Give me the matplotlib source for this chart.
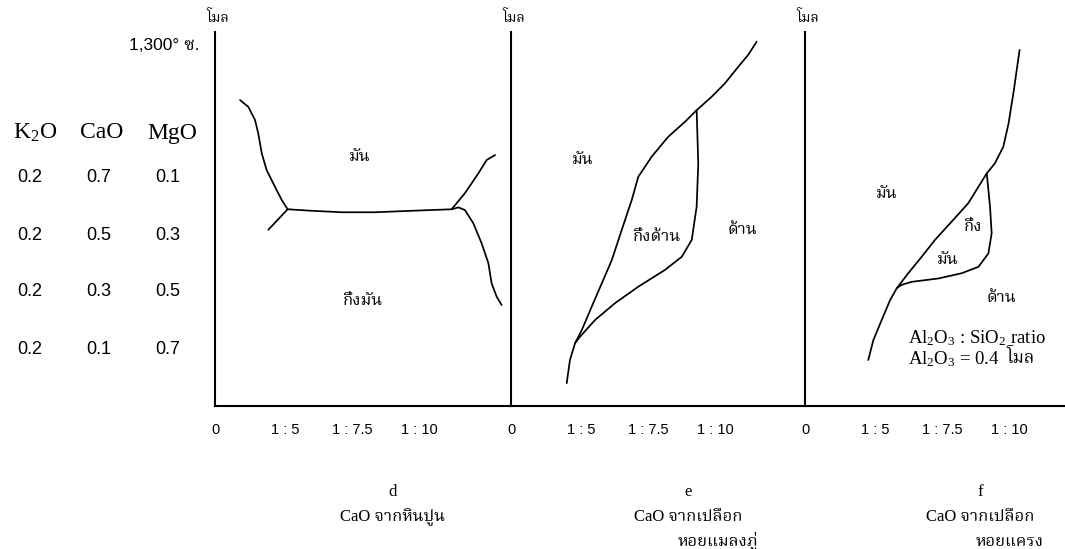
import matplotlib
matplotlib.use("Agg")
import matplotlib.pyplot as plt
from matplotlib import font_manager as fm
from matplotlib.ft2font import FT2Font

# ---------------- data ----------------
tick_pos = [0, 3.43, 6.72, 10]
tick_labels = ["0", "1 : 5", "1 : 7.5", "1 : 10"]

K2O = ["0.2", "0.2", "0.2", "0.2"]
CaO = ["0.7", "0.5", "0.3", "0.1"]
MgO = ["0.1", "0.3", "0.5", "0.7"]

# panel d (CaO from limestone)
d_upleft_x = [1.23, 1.63, 1.96, 2.12, 2.29, 2.53, 2.94, 3.27, 3.56]
d_upleft_y = [81.8, 80.0, 76.5, 72.9, 67.6, 63.1, 58.6, 55.1, 52.6]
d_lowleft_x = [3.56, 2.61]
d_lowleft_y = [52.6, 47.1]
d_mid_x = [3.56, 4.74, 6.21, 7.84, 9.64, 11.60]
d_mid_y = [52.6, 52.2, 51.8, 51.8, 52.2, 52.6]
d_upright_x = [11.60, 12.25, 12.91, 13.32, 13.73]
d_upright_y = [52.6, 56.9, 62.2, 65.8, 67.1]
d_lowright_x = [11.60, 11.93, 12.25, 12.66, 13.07, 13.40, 13.56, 13.81, 14.05]
d_lowright_y = [52.6, 53.1, 52.4, 48.9, 43.5, 38.2, 32.8, 29.2, 27.0]

# panel e (CaO from mussel shell)
e_main_x = [2.73, 2.89, 3.14, 3.47, 3.96, 4.45, 4.94, 5.43, 5.92, 6.24, 6.90, 7.71,
            8.53, 9.10, 9.84, 10.49, 11.14, 11.63, 12.04]
e_main_y = [6.1, 12.3, 16.8, 20.3, 26.6, 32.8, 39.0, 47.1, 55.1, 61.3, 66.7, 72.0,
            76.0, 79.1, 82.7, 86.3, 90.7, 93.9, 97.4]
e_inner_x = [9.10, 9.18, 9.10, 8.86, 8.37, 7.55, 6.24, 5.10, 4.12, 3.38, 3.14]
e_inner_y = [79.1, 64.9, 53.3, 44.4, 39.9, 36.4, 31.9, 27.5, 23.0, 18.5, 16.8]

# panel f (CaO from cockle shell)
f_main_x = [3.10, 3.35, 3.76, 4.17, 4.50, 5.06, 5.72, 6.37, 7.19, 8.00, 8.50, 8.91,
            9.31, 9.72, 9.98, 10.24, 10.40, 10.52]
f_main_y = [12.3, 17.6, 23.0, 28.3, 31.5, 35.5, 39.9, 44.4, 49.3, 54.2, 58.6, 62.2,
            64.9, 69.3, 75.6, 84.5, 90.7, 95.2]
f_inner_x = [8.91, 9.07, 9.15, 8.99, 8.50, 7.68, 6.54, 5.23, 4.74, 4.50]
f_inner_y = [62.2, 53.3, 46.2, 40.8, 37.2, 35.5, 34.1, 33.2, 32.4, 31.5]

# ---------------- fonts ----------------
def find_thai():
    found = []
    for f in fm.fontManager.ttflist:
        try:
            cm = FT2Font(f.fname).get_charmap()
        except Exception:
            continue
        if 0x0E21 in cm:
            found.append(f.name)
    for pref in ["Norasi", "Kinnari", "Laksaman", "Noto Serif Thai", "Garuda",
                 "Loma", "Noto Sans Thai Looped", "Noto Sans Thai"]:
        if pref in found:
            return pref
    return found[0] if found else None

thai = find_thai()
SANS = ["Liberation Sans"] + ([thai] if thai else []) + ["DejaVu Sans"]
SERIF = ["Liberation Serif"] + ([thai] if thai else []) + ["DejaVu Serif"]
THAI = ([thai] if thai else []) + ["Liberation Serif", "DejaVu Sans"]

plt.rcParams["mathtext.fontset"] = "custom"
plt.rcParams["mathtext.rm"] = "Liberation Serif"
plt.rcParams["mathtext.it"] = "Liberation Serif:italic"

W, H = 1065, 549
fig = plt.figure(figsize=(W / 100, H / 100), dpi=100)

def fx(px):
    return px / W

def fy(py):
    return 1 - py / H

PXU = 20.4  # pixels per x unit
y0, y1 = 406, 32
panel_left = [215, 511, 805]
panel_right = [511, 805, 1065]

axes = []
for L, R in zip(panel_left, panel_right):
    ax = fig.add_axes([fx(L), fy(y0), fx(R - L), (y0 - y1) / H])
    ax.set_xlim(0, (R - L) / PXU)
    ax.set_ylim(0, 100)
    for s in ["top", "right"]:
        ax.spines[s].set_visible(False)
    for s in ["left", "bottom"]:
        ax.spines[s].set_linewidth(1.5)
        ax.spines[s].set_color("black")
    ax.set_yticks([])
    ax.set_xticks(tick_pos)
    ax.set_xticklabels(tick_labels, fontfamily=SANS, fontsize=10.5)
    ax.tick_params(axis="x", length=0, pad=12)
    ax.patch.set_alpha(0)
    axes.append(ax)
    fig.text(fx(L + 3), fy(18), "โมล", family=THAI, fontsize=10, ha="center", va="center")

lw = 1.25
axd, axe, axf = axes
for xs, ys in [(d_upleft_x, d_upleft_y), (d_lowleft_x, d_lowleft_y), (d_mid_x, d_mid_y),
               (d_upright_x, d_upright_y), (d_lowright_x, d_lowright_y)]:
    axd.plot(xs, ys, color="black", lw=lw, solid_capstyle="round", solid_joinstyle="round")
axd.text(7.1, 66.6, "มัน", family=THAI, fontsize=12, ha="center", va="center")
axd.text(7.25, 28.3, "กึ่งมัน", family=THAI, fontsize=12, ha="center", va="center")

for xs, ys in [(e_main_x, e_main_y), (e_inner_x, e_inner_y)]:
    axe.plot(xs, ys, color="black", lw=lw, solid_capstyle="round", solid_joinstyle="round")
axe.text(3.53, 65.8, "มัน", family=THAI, fontsize=12, ha="center", va="center")
axe.text(7.16, 45.2, "กึ่งด้าน", family=THAI, fontsize=12, ha="center", va="center")
axe.text(11.37, 47.1, "ด้าน", family=THAI, fontsize=12, ha="center", va="center")

for xs, ys in [(f_main_x, f_main_y), (f_inner_x, f_inner_y)]:
    axf.plot(xs, ys, color="black", lw=lw, solid_capstyle="round", solid_joinstyle="round")
axf.text(3.99, 56.7, "มัน", family=THAI, fontsize=12, ha="center", va="center")
axf.text(8.24, 48.1, "กึ่ง", family=THAI, fontsize=12, ha="center", va="center")
axf.text(7.01, 39.3, "มัน", family=THAI, fontsize=12, ha="center", va="center")
axf.text(9.64, 28.9, "ด้าน", family=THAI, fontsize=12, ha="center", va="center")
axf.text(5.05, 18.2, r"Al$_2$O$_3$ : SiO$_2$ ratio", family=SERIF, fontsize=13.5, ha="left", va="center")
axf.text(5.05, 12.6, r"Al$_2$O$_3$ = 0.4", family=SERIF, fontsize=13.5, ha="left", va="center")
axf.text(9.85, 12.9, "โมล", family=THAI, fontsize=12.5, ha="left", va="center")

# left table
fig.text(fx(200), fy(45), "1,300° ซ.", family=SANS, fontsize=12.5, ha="right", va="center")
col_x = [35, 102, 172]
for cx, name in zip(col_x, [r"K$_2$O", "CaO", "MgO"]):
    fig.text(fx(cx), fy(133), name, family=SERIF, fontsize=17, ha="center", va="center")
val_x = [30, 99, 168]
row_y = [177, 235, 292, 350]
for i, yy in enumerate(row_y):
    for cx, col in zip(val_x, [K2O, CaO, MgO]):
        fig.text(fx(cx), fy(yy), col[i], family=SANS, fontsize=13, ha="center", va="center")

# captions
caps = [(393, ["d", "CaO จากหินปูน"], None),
        (688, ["e", "CaO จากเปลือก"], "หอยแมลงภู่"),
        (980, ["f", "CaO จากเปลือก"], "หอยแครง")]
for cx, lines, extra in caps:
    fig.text(fx(cx), fy(492), lines[0], family=SERIF, fontsize=12, ha="center", va="center")
    fig.text(fx(cx), fy(517), lines[1], family=SERIF, fontsize=12, ha="center", va="center")
    if extra:
        fig.text(fx(cx + 30), fy(541), extra, family=THAI, fontsize=12, ha="center", va="center")

fig.savefig("out.png", dpi=100)
